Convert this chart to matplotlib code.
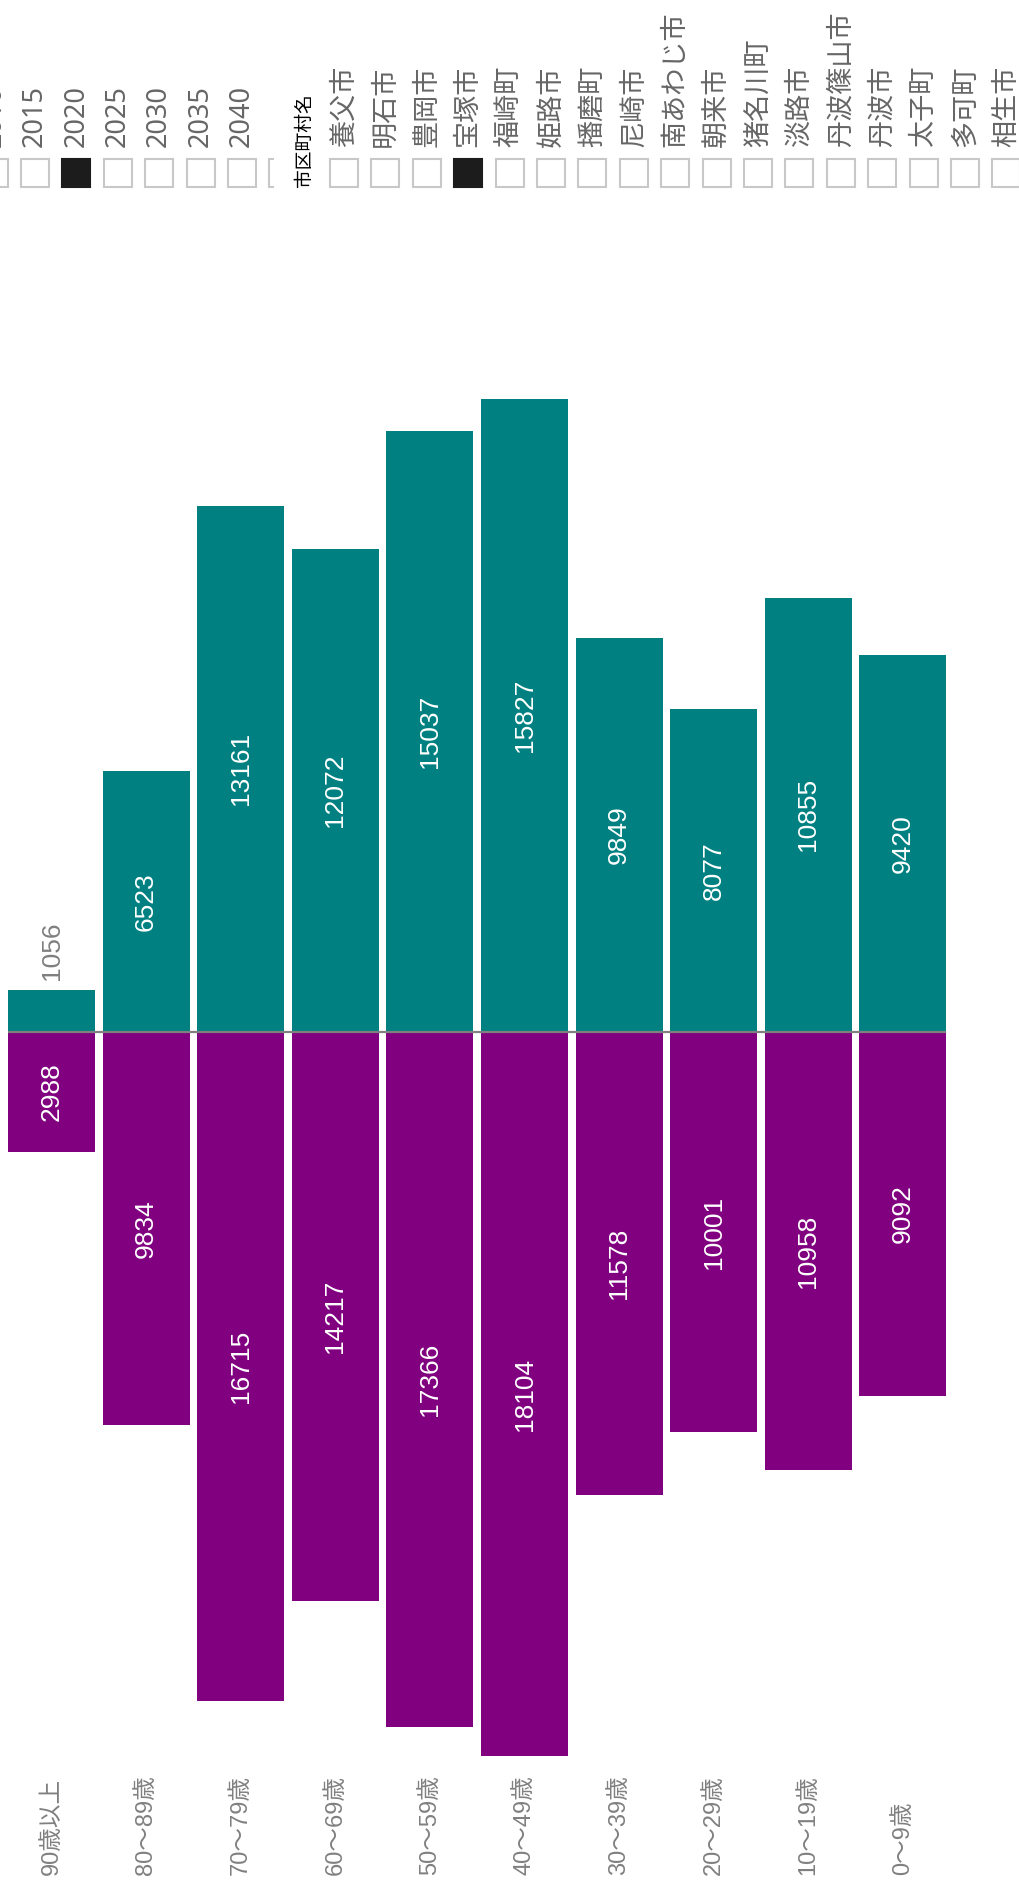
import numpy as np
import matplotlib.pyplot as plt
import matplotlib.transforms as mtransforms
from matplotlib.patches import Rectangle

W, H = 1019, 1885

ages = ["90歳以上", "80～89歳", "70～79歳", "60～69歳", "50～59歳",
        "40～49歳", "30～39歳", "20～29歳", "10～19歳", "0～9歳"]
male = [1056, 6523, 13161, 12072, 15037, 15827, 9849, 8077, 10855, 9420]
female = [2988, 9834, 16715, 14217, 17366, 18104, 11578, 10001, 10958, 9092]

years = ["2010", "2015", "2020", "2025", "2030", "2035", "2040", "2045"]
year_sel = "2020"
cities = ["養父市", "明石市", "豊岡市", "宝塚市", "福崎町", "姫路市", "播磨町", "尼崎市",
          "南あわじ市", "朝来市", "猪名川町", "淡路市", "丹波篠山市", "丹波市", "太子町",
          "多可町", "相生市"]
city_sel = "宝塚市"
legend_title = "市区町村名"

TEAL = "#008080"
PURPLE = "#800080"
NUM_FONT = ["Liberation Sans", "Noto Sans CJK JP"]
JP_FONT = ["Noto Sans CJK JP", "DejaVu Sans"]

fig = plt.figure(figsize=(W / 100, H / 100), dpi=100)

# main chart (vertical bars, text rotated)
ax = fig.add_axes([4.2 / W, 1 - 1770 / H, 946 / W, 1470 / H])
ax.set_xlim(-0.5, len(ages) - 0.5)
ax.set_ylim(-18450, 18300)
ax.axis("off")
x = np.arange(len(ages))
ax.bar(x, male, width=0.92, color=TEAL)
ax.bar(x, -np.array(female), width=0.92, color=PURPLE)
ax.hlines(0, -0.46, len(ages) - 0.54, color="#808080", lw=1.6, zorder=3)

px_per_unit = 1470 / (18300 + 18450)
for i, v in enumerate(male):
    if v * px_per_unit > 80:
        ax.text(i, v / 2, str(v), rotation=90, ha="center", va="center",
                color="white", fontsize=19, family=NUM_FONT)
    else:
        ax.annotate(str(v), (i, v), xytext=(0, 7), textcoords="offset points",
                    rotation=90, ha="center", va="bottom", color="#7f7f7f",
                    fontsize=19, family=NUM_FONT)
for i, v in enumerate(female):
    if v * px_per_unit > 80:
        ax.text(i, -v / 2, str(v), rotation=90, ha="center", va="center",
                color="white", fontsize=19, family=NUM_FONT)
    else:
        ax.annotate(str(v), (i, -v), xytext=(0, -7), textcoords="offset points",
                    rotation=90, ha="center", va="top", color="#7f7f7f",
                    fontsize=19, family=NUM_FONT)

# category labels along the bottom
trans = mtransforms.blended_transform_factory(ax.transData, fig.transFigure)
for i, lab in enumerate(ages):
    ax.text(i, 1 - 1875 / H, lab, transform=trans, rotation=90, ha="center",
            va="bottom", color="#808080", fontsize=17, family=NUM_FONT,
            clip_on=False)

# year slicer (clipped at its right edge, last item only partly shown)
ay = fig.add_axes([0, 1 - 200 / H, 274 / W, 200 / H])
ay.set_xlim(0, 274)
ay.set_ylim(200, 0)
ay.axis("off")
for i, yr in enumerate(years):
    cx = -6.4 + 41.4 * i
    sel = yr == year_sel
    box = ay.add_patch(Rectangle((cx - 14, 159), 28, 28,
                                 facecolor="#1c1c1c" if sel else "white",
                                 edgecolor="#1c1c1c" if sel else "#c8c8c8", lw=1.5))
    box.set_clip_box(ay.bbox)
    if cx + 14 < 274:
        ay.text(cx, 147, yr, rotation=90, ha="center", va="bottom", color="#666666",
                fontsize=19.5, family=["Noto Sans", "DejaVu Sans"])

# city slicer
ac = fig.add_axes([0, 0, 1, 1])
ac.set_xlim(0, W)
ac.set_ylim(H, 0)
ac.axis("off")
ac.text(304, 187, legend_title, rotation=90, ha="center", va="bottom",
        color="black", fontsize=13.5, family=JP_FONT)
for i, c in enumerate(cities):
    cx = 344 + 41.4 * i
    sel = c == city_sel
    ac.add_patch(Rectangle((cx - 14, 159), 28, 28, facecolor="#1c1c1c" if sel else "white",
                           edgecolor="#1c1c1c" if sel else "#c8c8c8", lw=1.5))
    ac.text(cx, 147, c, rotation=90, ha="center", va="bottom", color="#666666",
            fontsize=19.5, family=JP_FONT)

fig.savefig("out.png", dpi=100)
